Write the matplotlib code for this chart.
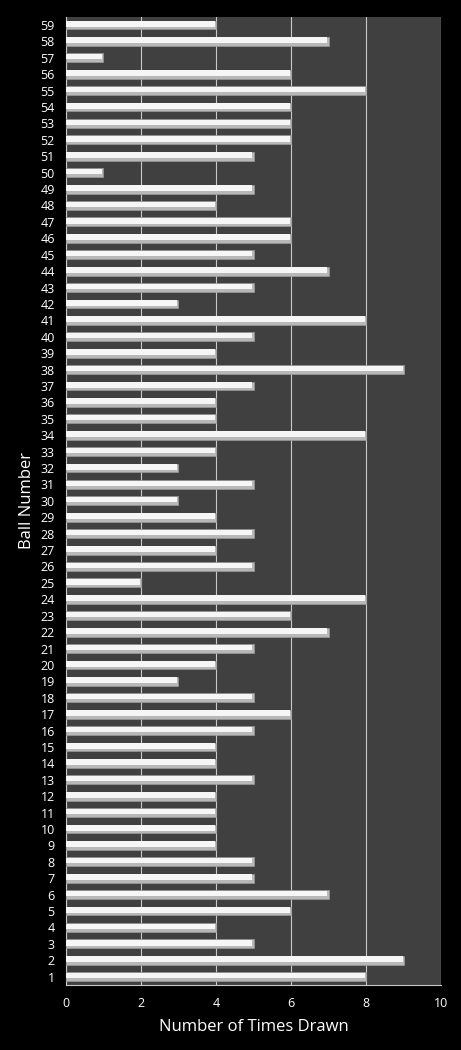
import matplotlib.pyplot as plt
import numpy as np

balls = list(range(1, 60))
times_drawn = [8, 9, 5, 4, 6, 7, 5, 5, 4, 4,
               4, 4, 5, 4, 4, 5, 6, 5, 3, 4,
               5, 7, 6, 8, 2, 5, 4, 5, 4, 3,
               5, 3, 4, 8, 4, 4, 5, 9, 4, 5,
               8, 3, 5, 7, 5, 6, 6, 4, 5, 1,
               5, 6, 6, 6, 8, 6, 1, 7, 4]

plt.rcParams['font.family'] = ['Open Sans', 'DejaVu Sans']

fig = plt.figure(figsize=(4.61, 10.5), dpi=100, facecolor='black')
ax = fig.add_axes([0.143, 0.062, 0.814, 0.922])
ax.set_facecolor('#404040')

y = np.arange(len(balls))
# grey base with a white upper part to fake the bevelled bars
ax.barh(y, times_drawn, height=0.54, color='#b8b8b8', edgecolor='#9a9a9a', linewidth=0.5, zorder=3)
ax.barh(y + 0.07, [v - 0.03 for v in times_drawn], height=0.34, color='#f6f6f6', linewidth=0, zorder=4)

ax.set_xlim(0, 10)
ax.set_ylim(-0.5, len(balls) - 0.5)
ax.set_xticks(range(0, 11, 2))
ax.set_yticks(y)
ax.set_yticklabels([str(b) for b in balls])
ax.xaxis.grid(True, color='#c8c8c8', linewidth=0.8, zorder=1)
ax.set_axisbelow(True)

for s in ax.spines.values():
    s.set_visible(False)
ax.spines['bottom'].set_visible(True)
ax.spines['bottom'].set_color('#c8c8c8')
ax.spines['left'].set_visible(True)
ax.spines['left'].set_color('#c8c8c8')

ax.tick_params(colors='white', labelsize=9, length=0)
ax.tick_params(axis='x', pad=9)
ax.tick_params(axis='y', pad=8)
ax.set_xlabel('Number of Times Drawn', color='white', fontsize=12, labelpad=6)
ax.set_ylabel('Ball Number', color='white', fontsize=12, labelpad=4)

fig.savefig('out.png', dpi=100, facecolor='black')
